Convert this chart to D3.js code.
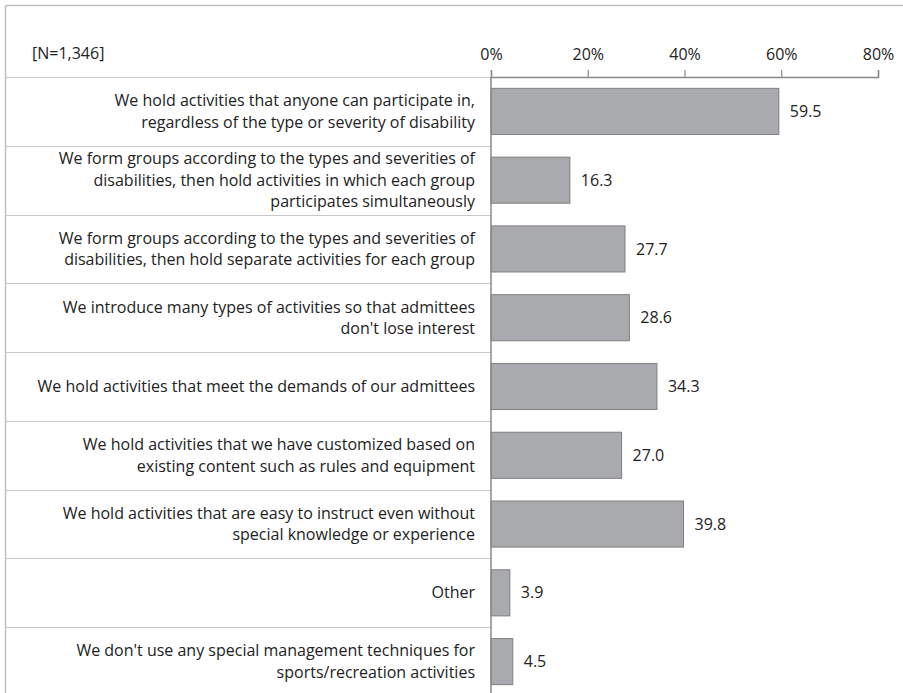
<!DOCTYPE html>
<html>
<head>
<meta charset="utf-8">
<script src="https://cdn.jsdelivr.net/npm/d3@7"></script>
<style>
  html, body { margin: 0; padding: 0; background: #fff; }
  svg { display: block; }
  text { font-family: "Open Sans", "Noto Sans", sans-serif; fill: #222; }
</style>
</head>
<body>
<svg id="chart" width="903" height="693"></svg>
<script>
// Survey responses: management techniques for sports/recreation activities
const categories = [
  ["We hold activities that anyone can participate in,", "regardless of the type or severity of disability"],
  ["We form groups according to the types and severities of", "disabilities, then hold activities in which each group", "participates simultaneously"],
  ["We form groups according to the types and severities of", "disabilities, then hold separate activities for each group"],
  ["We introduce many types of activities so that admittees", "don't lose interest"],
  ["We hold activities that meet the demands of our admittees"],
  ["We hold activities that we have customized based on", "existing content such as rules and equipment"],
  ["We hold activities that are easy to instruct even without", "special knowledge or experience"],
  ["Other"],
  ["We don't use any special management techniques for", "sports/recreation activities"]
];
const values = [59.5, 16.3, 27.7, 28.6, 34.3, 27.0, 39.8, 3.9, 4.5];
const tickValues = [0, 20, 40, 60, 80];
const sampleNote = "[N=1,346]";

const svg = d3.select("#chart");
const frameX = 5.5, frameY = 5.5;
const x0 = 491, x1 = 878;
const yTop = 77, yBottom = 696;
const fs = 16;

const x = d3.scaleLinear().domain([0, 80]).range([x0, x1]);
const y = d3.scaleBand().domain(d3.range(values.length)).range([yTop, yBottom]).paddingInner(0.33).paddingOuter(0.165);
const rowH = (yBottom - yTop) / values.length;

// outer frame (top and left edges)
svg.append("line").attr("x1", frameX).attr("x2", 903).attr("y1", frameY).attr("y2", frameY)
  .attr("stroke", "#bfbfbf").attr("stroke-width", 1.5);
svg.append("line").attr("x1", frameX).attr("x2", frameX).attr("y1", frameY).attr("y2", 693)
  .attr("stroke", "#bfbfbf").attr("stroke-width", 1.5);

// row separators in the label column
d3.range(values.length + 1).forEach(i => {
  const yy = Math.round(yTop + i * rowH) + 0.5;
  svg.append("line").attr("x1", frameX).attr("x2", x0).attr("y1", yy).attr("y2", yy)
    .attr("stroke", "#c8c8c8").attr("stroke-width", 1.2);
});

// bars
svg.append("g").selectAll("rect").data(values).join("rect")
  .attr("x", x(0))
  .attr("y", (d, i) => y(i))
  .attr("width", d => x(d) - x(0))
  .attr("height", y.bandwidth())
  .attr("fill", "#a9aaae")
  .attr("stroke", "#7f7f7f")
  .attr("stroke-width", 1);

// value labels
svg.append("g").selectAll("text").data(values).join("text")
  .attr("x", d => x(d) + 11)
  .attr("y", (d, i) => y(i) + y.bandwidth() / 2)
  .attr("dy", "0.35em")
  .attr("font-size", fs)
  .text(d => d.toFixed(1));

// category labels, right aligned and centred on each row
const labels = svg.append("g").selectAll("text").data(categories).join("text")
  .attr("text-anchor", "end")
  .attr("font-size", fs);
labels.each(function(lines, i) {
  const cy = y(i) + y.bandwidth() / 2;
  const lh = 21.5;
  const start = cy - (lines.length - 1) * lh / 2;
  d3.select(this).selectAll("tspan").data(lines).join("tspan")
    .attr("x", 475)
    .attr("y", (d, j) => start + j * lh)
    .attr("dy", "0.35em")
    .text(d => d);
});

// top axis
const axis = svg.append("g").attr("transform", `translate(0,${yTop})`)
  .call(d3.axisTop(x).tickValues(tickValues).tickSize(7).tickPadding(10).tickFormat(d => d + "%"));
axis.select(".domain").attr("stroke", "#898989").attr("stroke-width", 1.5);
axis.selectAll(".tick line").attr("stroke", "#898989").attr("stroke-width", 1.2);
axis.selectAll(".tick text").attr("font-size", fs).attr("font-family", "\"Open Sans\", sans-serif").attr("fill", "#222");

// vertical baseline at 0%
svg.append("line").attr("x1", x0).attr("x2", x0).attr("y1", yTop).attr("y2", 693)
  .attr("stroke", "#898989").attr("stroke-width", 1.5);

// sample size note
svg.append("text").attr("x", 32).attr("y", 53).attr("dy", "0.35em")
  .attr("font-size", fs).text(sampleNote);
</script>
</body>
</html>
